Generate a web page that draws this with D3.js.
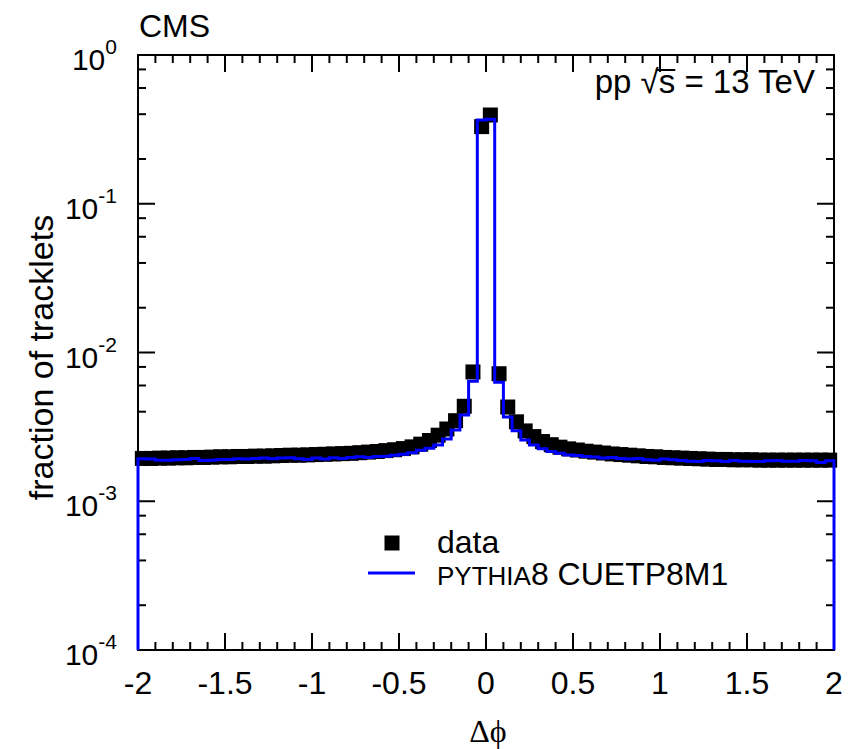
<!DOCTYPE html>
<html>
<head>
<meta charset="utf-8">
<script src="https://cdn.jsdelivr.net/npm/d3@7"></script>
<style>
  body { margin: 0; background: #fff; }
  text { font-family: "Liberation Sans", Arial, Helvetica, sans-serif; fill: #000; }
</style>
</head>
<body>
<svg id="chart" width="864" height="749"></svg>
<script>
// histogram binning: 80 bins of 0.05 between -2 and 2
const binLow = -2;
const binWidth = 0.05;
const nBins = 80;

// data: fraction of tracklets per bin
const dataFrac = [
  0.00194, 0.00194, 0.00195, 0.00195, 0.00196, 0.00196, 0.00197, 0.00197, 0.00198, 0.00199,
  0.00199, 0.00200, 0.00200, 0.00201, 0.00201, 0.00202, 0.00203, 0.00204, 0.00204, 0.00205,
  0.00206, 0.00207, 0.00208, 0.00209, 0.00210, 0.00212, 0.00214, 0.00216, 0.00219, 0.00222,
  0.00226, 0.00232, 0.00242, 0.00256, 0.00278, 0.00306, 0.00348, 0.00435, 0.0074, 0.33,
  0.395, 0.0072, 0.0043, 0.00342, 0.00297, 0.00272, 0.00252, 0.00240, 0.00231, 0.00225,
  0.00221, 0.00217, 0.00214, 0.00211, 0.00208, 0.00206, 0.00204, 0.00202, 0.00200, 0.00199,
  0.00197, 0.00196, 0.00195, 0.00194, 0.00193, 0.00192, 0.00191, 0.00191, 0.00190, 0.00190,
  0.00190, 0.00189, 0.00189, 0.00189, 0.00189, 0.00189, 0.00189, 0.00189, 0.00189, 0.00189
];

// PYTHIA8 CUETP8M1 prediction
const mcFrac = [
  0.00193, 0.00192, 0.00189, 0.00189, 0.00190, 0.00191, 0.00194, 0.00188, 0.00189, 0.00191,
  0.00191, 0.00193, 0.00192, 0.00194, 0.00195, 0.00193, 0.00195, 0.00196, 0.00193, 0.00191,
  0.00195, 0.00192, 0.00196, 0.00194, 0.00197, 0.00199, 0.00197, 0.00200, 0.00201, 0.00204,
  0.00207, 0.00212, 0.00220, 0.00227, 0.00239, 0.00262, 0.00301, 0.00380, 0.0064, 0.365,
  0.370, 0.0063, 0.00368, 0.00298, 0.00258, 0.00239, 0.00225, 0.00216, 0.00210, 0.00205,
  0.00203, 0.00200, 0.00198, 0.00195, 0.00197, 0.00194, 0.00192, 0.00194, 0.00190, 0.00189,
  0.00192, 0.00190, 0.00188, 0.00186, 0.00185, 0.00188, 0.00187, 0.00185, 0.00188, 0.00186,
  0.00185, 0.00185, 0.00187, 0.00188, 0.00186, 0.00186, 0.00188, 0.00187, 0.00182, 0.00187
];

const xMajor = [-2, -1.5, -1, -0.5, 0, 0.5, 1, 1.5, 2];
const xLabels = ["-2", "-1.5", "-1", "-0.5", "0", "0.5", "1", "1.5", "2"];
const yDecades = [1e-4, 1e-3, 1e-2, 1e-1, 1];
const yExponents = ["-4", "-3", "-2", "-1", "0"];

const svg = d3.select("#chart");
const plotLeft = 138, plotRight = 834, plotTop = 55, plotBottom = 650;

const x = d3.scaleLinear().domain([-2, 2]).range([plotLeft, plotRight]);
const y = d3.scaleLog().domain([1e-4, 1]).range([plotBottom, plotTop]);

// minor ticks: every 0.1 in x, 2,4,6,8 x decade in y
const xMinor = d3.range(-19, 20).map(i => i / 10).filter(v => !xMajor.some(m => Math.abs(m - v) < 1e-9));
const yMinor = [];
for (let d of yDecades.slice(0, 4)) {
  for (let k of [2, 4, 6, 8]) yMinor.push(d * k);
}

const axisG = svg.append("g").attr("stroke", "#000").attr("stroke-width", 2);

// frame
axisG.append("rect")
  .attr("x", plotLeft).attr("y", plotTop)
  .attr("width", plotRight - plotLeft).attr("height", plotBottom - plotTop)
  .attr("fill", "none");

// x ticks, bottom and top, pointing inwards
function xTicks(vals, len) {
  axisG.selectAll(null).data(vals).enter().append("line")
    .attr("x1", d => x(d)).attr("x2", d => x(d))
    .attr("y1", plotBottom).attr("y2", plotBottom - len);
  axisG.selectAll(null).data(vals).enter().append("line")
    .attr("x1", d => x(d)).attr("x2", d => x(d))
    .attr("y1", plotTop).attr("y2", plotTop + len);
}
xTicks(xMajor, 17);
xTicks(xMinor, 8);

function yTicks(vals, len) {
  axisG.selectAll(null).data(vals).enter().append("line")
    .attr("x1", plotLeft).attr("x2", plotLeft + len)
    .attr("y1", d => y(d)).attr("y2", d => y(d));
  axisG.selectAll(null).data(vals).enter().append("line")
    .attr("x1", plotRight).attr("x2", plotRight - len)
    .attr("y1", d => y(d)).attr("y2", d => y(d));
}
yTicks(yDecades, 17);
yTicks(yMinor, 8);

// x tick labels
svg.selectAll(".xlab").data(xMajor).enter().append("text")
  .attr("x", d => x(d)).attr("y", plotBottom + 44)
  .attr("text-anchor", "middle")
  .attr("font-size", 32)
  .text((d, i) => xLabels[i]);

// y tick labels 10^n
yDecades.forEach((d, i) => {
  const t = svg.append("text")
    .attr("x", 117).attr("y", y(d) + 15)
    .attr("text-anchor", "end")
    .attr("font-size", 30);
  t.append("tspan").text("10");
  t.append("tspan").attr("font-size", 21).attr("dy", -16).text(yExponents[i]);
});

// axis titles
svg.append("text")
  .attr("transform", `translate(53,${(plotTop + plotBottom) / 2 + 5}) rotate(-90)`)
  .attr("text-anchor", "middle")
  .attr("font-size", 34)
  .text("fraction of tracklets");

svg.append("text")
  .attr("x", 488).attr("y", 742)
  .attr("text-anchor", "middle")
  .attr("font-size", 32)
  .style("font-family", "'Liberation Serif', 'DejaVu Serif', serif")
  .text("Δϕ");

svg.append("text")
  .attr("x", 139).attr("y", 37)
  .attr("font-size", 32)
  .text("CMS");

const energy = svg.append("text")
  .attr("x", 815).attr("y", 93)
  .attr("text-anchor", "end")
  .attr("font-size", 33)
  .text("pp √s = 13 TeV");

// radical bar over the s
const sBox = energy.node().getExtentOfChar(4);
const rootBox = energy.node().getExtentOfChar(3);
svg.append("line")
  .attr("x1", rootBox.x + rootBox.width - 3).attr("x2", sBox.x + sBox.width)
  .attr("y1", 70).attr("y2", 70)
  .attr("stroke", "#000").attr("stroke-width", 2);

// data markers
const centers = d3.range(nBins).map(i => binLow + binWidth * (i + 0.5));
const ms = 15;
svg.append("g").selectAll("rect").data(dataFrac).enter().append("rect")
  .attr("x", (d, i) => x(centers[i]) - ms / 2)
  .attr("y", d => y(d) - ms / 2)
  .attr("width", ms).attr("height", ms)
  .attr("fill", "#000");

// MC histogram as a step line
const pts = [[binLow, 1e-4]];
mcFrac.forEach((v, i) => pts.push([binLow + binWidth * i, v]));
pts.push([binLow + binWidth * nBins, mcFrac[nBins - 1]]);
pts.push([binLow + binWidth * nBins, 1e-4]);

const line = d3.line()
  .x(d => x(d[0]))
  .y(d => y(d[1]))
  .curve(d3.curveStepAfter);

svg.append("path")
  .datum(pts)
  .attr("d", line)
  .attr("fill", "none")
  .attr("stroke", "#0000ff")
  .attr("stroke-width", 3);

// legend
svg.append("rect")
  .attr("x", 392 - ms / 2).attr("y", 543 - ms / 2)
  .attr("width", ms).attr("height", ms)
  .attr("fill", "#000");
svg.append("text")
  .attr("x", 437).attr("y", 553)
  .attr("font-size", 32)
  .text("data");

svg.append("line")
  .attr("x1", 368).attr("x2", 415)
  .attr("y1", 573).attr("y2", 573)
  .attr("stroke", "#0000ff").attr("stroke-width", 3);
const mcLab = svg.append("text")
  .attr("x", 437).attr("y", 585)
  .attr("font-size", 32);
mcLab.append("tspan").attr("font-size", 26).text("PYTHIA");
mcLab.append("tspan").text("8 CUETP8M1");
</script>
</body>
</html>
